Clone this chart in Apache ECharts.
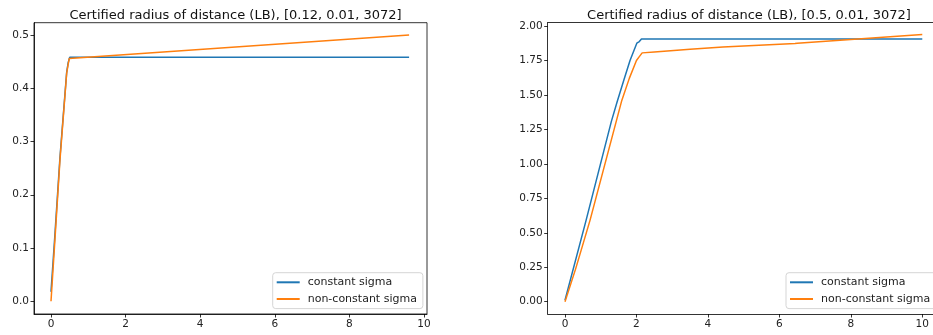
<!DOCTYPE html>
<html>
<head>
<meta charset="utf-8">
<script src="https://cdn.jsdelivr.net/npm/echarts@6/dist/echarts.min.js"></script>
<style>
html,body{margin:0;padding:0;background:#fff;}
#chart{width:933px;height:335px;}
</style>
</head>
<body>
<div id="chart"></div>
<script>
// ---- data ----
const titles = ["Certified radius of distance (LB), [0.12, 0.01, 3072]", "Certified radius of distance (LB), [0.5, 0.01, 3072]"];
const seriesNames = ["constant sigma", "non-constant sigma"];

const leftConstX = [0, 0.1, 0.24, 0.42, 0.46, 0.5, 9.6];
const leftConstY = [0.018, 0.12, 0.27, 0.43, 0.448, 0.458, 0.458];
const leftNonX = [0, 0.1, 0.24, 0.42, 0.46, 0.49, 9.6];
const leftNonY = [0, 0.11, 0.265, 0.428, 0.445, 0.456, 0.5];

const rightConstX = [0, 0.59, 1.3, 1.46, 1.65, 1.82, 2.01, 2.08, 2.12, 2.14, 10.0];
const rightConstY = [0.01, 0.59, 1.31, 1.45, 1.61, 1.75, 1.875, 1.887, 1.9, 1.906, 1.906];
const rightNonX = [0, 0.3, 0.7, 1.59, 1.8, 2.0, 2.08, 2.13, 2.16, 2.19, 2.5, 3.5, 4.42, 4.45, 6.44, 6.5, 10.0];
const rightNonY = [0, 0.24, 0.59, 1.46, 1.62, 1.75, 1.778, 1.785, 1.805, 1.814, 1.812, 1.832, 1.848, 1.843, 1.873, 1.875, 1.938];

const xTicks = [0, 2, 4, 6, 8, 10];
const leftYTicks = [0.0, 0.1, 0.2, 0.3, 0.4, 0.5];
const rightYTicks = [0.0, 0.25, 0.5, 0.75, 1.0, 1.25, 1.5, 1.75, 2.0];

function zip(xs, ys) { return xs.map((x, i) => [x, ys[i]]); }

const FONT = 'DejaVu Sans';
const BLUE = '#1f77b4', ORANGE = '#ff7f0e';

function xAxis(idx, min, max) {
  return {
    type: 'value', gridIndex: idx, min: min, max: max,
    splitLine: {show: false},
    axisLine: {show: true, onZero: false, lineStyle: {color: '#000', width: 0.8}},
    axisTick: {show: true, length: 3.5, customValues: xTicks, lineStyle: {color: '#000', width: 0.8}},
    axisLabel: {show: true, customValues: xTicks, margin: 5, color: '#222', fontFamily: FONT, fontSize: 10.5,
      formatter: v => String(v)}
  };
}
function yAxis(idx, min, max, ticks, dec) {
  return {
    type: 'value', gridIndex: idx, min: min, max: max,
    splitLine: {show: false},
    axisLine: {show: true, onZero: false, lineStyle: {color: '#000', width: 0.8}},
    axisTick: {show: true, length: 3.5, customValues: ticks, lineStyle: {color: '#000', width: 0.8}},
    axisLabel: {show: true, customValues: ticks, margin: 5, color: '#222', fontFamily: FONT, fontSize: 10.5,
      formatter: v => Number(v).toFixed(dec)}
  };
}
function line(name, idx, data, color) {
  return {
    type: 'line', name: name, xAxisIndex: idx, yAxisIndex: idx, data: data,
    showSymbol: false, symbol: 'none', lineStyle: {color: color, width: 1.5}, itemStyle: {color: color},
    emphasis: {disabled: true}
  };
}
function legend(left) {
  return {
    left: left, top: 272.7, orient: 'vertical', data: seriesNames,
    icon: 'rect', itemWidth: 23, itemHeight: 2, itemGap: 4.7,
    padding: [3.6, 6, 3.6, 4],
    borderColor: '#d5d5d5', borderWidth: 1, borderRadius: 3, backgroundColor: 'rgba(255,255,255,0.8)',
    textStyle: {fontFamily: FONT, fontSize: 11, color: '#222', lineHeight: 12, padding: [0, 0, 0, 3]}
  };
}

const option = {
  animation: false,
  backgroundColor: '#fff',
  title: [
    {text: titles[0], left: 230.5, top: 4, textAlign: 'center',
      textStyle: {fontFamily: FONT, fontSize: 13, fontWeight: 'normal', color: '#111'}},
    {text: titles[1], left: 744, top: 4, textAlign: 'center',
      textStyle: {fontFamily: FONT, fontSize: 13, fontWeight: 'normal', color: '#111'}}
  ],
  grid: [
    {left: 34, top: 22.7, width: 393, height: 291.3, show: true, borderColor: '#000', borderWidth: 0.8, backgroundColor: 'transparent'},
    {left: 547.7, top: 22.7, width: 385.3, height: 291.3, show: false}
  ],
  xAxis: [
    xAxis(0, -0.4558, 10.08),
    xAxis(1, -0.484, 10.3),
    {type: 'value', gridIndex: 1, position: 'top', min: -0.484, max: 10.3,
      splitLine: {show: false}, axisTick: {show: false}, axisLabel: {show: false},
      axisLine: {show: true, onZero: false, lineStyle: {color: '#000', width: 0.8}}}
  ],
  yAxis: [yAxis(0, -0.0239, 0.5231, leftYTicks, 1), yAxis(1, -0.0893, 2.0239, rightYTicks, 2)],
  legend: [legend(272.7), legend(786)],
  series: [
    line(seriesNames[0], 0, zip(leftConstX, leftConstY), BLUE),
    line(seriesNames[1], 0, zip(leftNonX, leftNonY), ORANGE),
    line(seriesNames[0], 1, zip(rightConstX, rightConstY), BLUE),
    line(seriesNames[1], 1, zip(rightNonX, rightNonY), ORANGE)
  ]
};

const chart = echarts.init(document.getElementById('chart'), null, {renderer: 'canvas'});
chart.setOption(option);
</script>
</body>
</html>
